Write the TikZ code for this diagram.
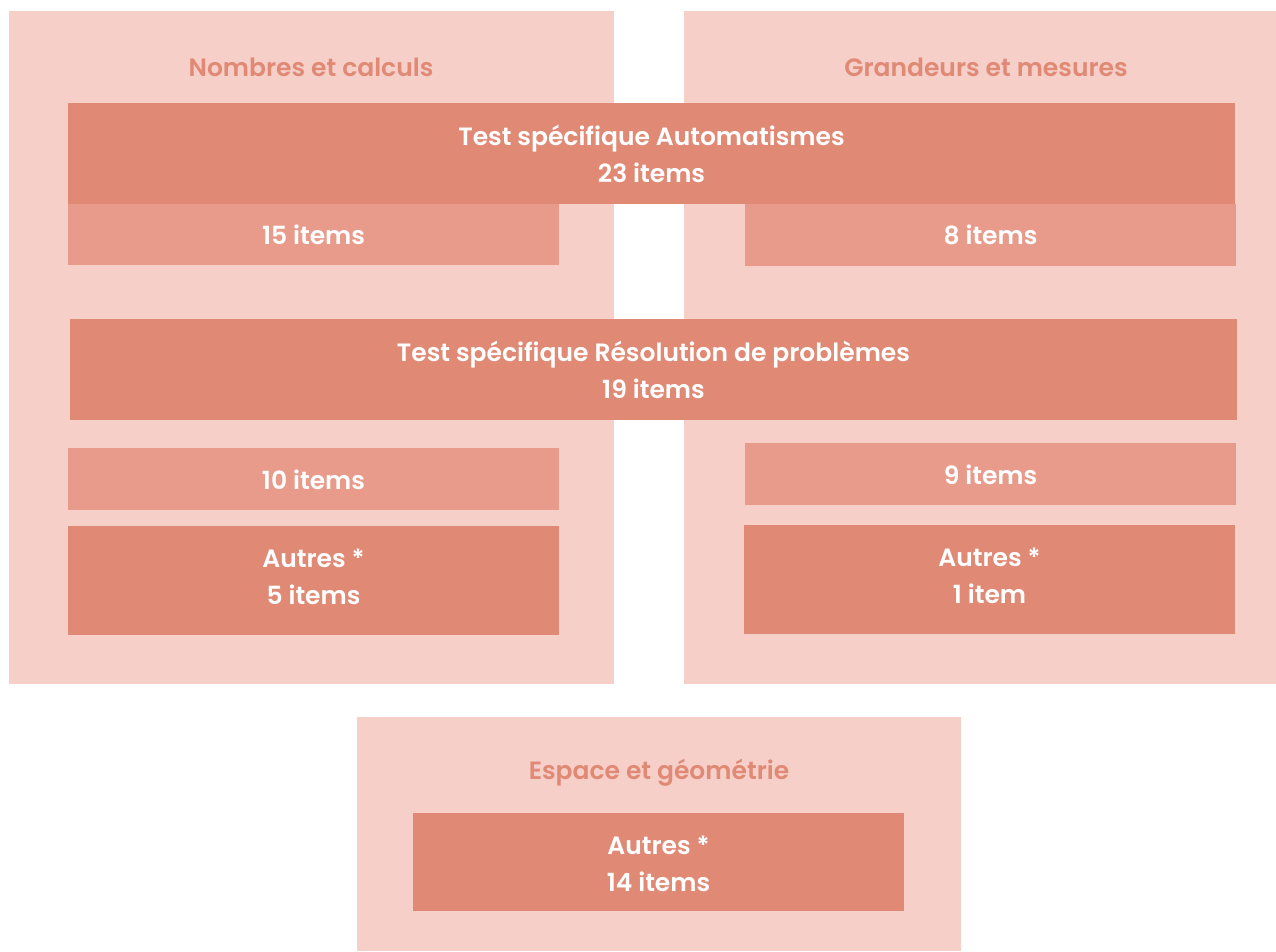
\documentclass[tikz,border=0pt]{standalone}
\usepackage{fontspec}
\setmainfont{Poppins}[BoldFont={* SemiBold}]
\definecolor{bgpink}{HTML}{F5CFC8}
\definecolor{darkbox}{HTML}{E08A76}
\definecolor{midbox}{HTML}{E89B8B}
\definecolor{titletxt}{HTML}{E08A76}
\begin{document}
\begin{tikzpicture}[x=1pt,y=-1pt,
  panel/.style={fill=bgpink,draw=none},
  darkb/.style={fill=darkbox,draw=none},
  midb/.style={fill=midbox,draw=none},
  wtxt/.style={text=white,font=\fontsize{25}{37}\selectfont\bfseries,align=center},
  ttxt/.style={text=titletxt,font=\fontsize{25}{30}\selectfont\bfseries,align=center}]
\useasboundingbox (0,0) rectangle (1276,951);
% panels
\fill[panel] (9,11) rectangle (614,684);
\fill[panel] (684,11) rectangle (1276,684);
\fill[panel] (357,717) rectangle (961,951);
% titles
\node[ttxt] (t1) at (311,67) {Nombres et calculs};
\node[ttxt] (t2) at (986,67) {Grandeurs et mesures};
\node[ttxt] (t3) at (659,773) {Espace et géométrie};
% boxes
\fill[darkb] (68,103) rectangle (1235,204);
\node[wtxt] (auto) at (651.5,154) {Test spécifique Automatismes\\23 items};
\fill[midb] (68,204) rectangle (559,265);
\node[wtxt] (a15) at (313.5,235) {15 items};
\fill[midb] (745,204) rectangle (1236,266);
\node[wtxt] (a8) at (990.5,235) {8 items};
\fill[darkb] (70,319) rectangle (1237,420);
\node[wtxt] (reso) at (653.5,370) {Test spécifique Résolution de problèmes\\19 items};
\fill[midb] (68,448) rectangle (559,510);
\node[wtxt] (r10) at (313.5,480) {10 items};
\fill[midb] (745,443) rectangle (1236,505);
\node[wtxt] (r9) at (990.5,475) {9 items};
\fill[darkb] (68,526) rectangle (559,635);
\node[wtxt] (o5) at (313.5,577) {Autres *\\5 items};
\fill[darkb] (744,525) rectangle (1235,634);
\node[wtxt] (o1) at (989.5,576) {Autres *\\1 item};
\fill[darkb] (413,813) rectangle (904,911);
\node[wtxt] (o14) at (658.5,864) {Autres *\\14 items};
\end{tikzpicture}
\end{document}
